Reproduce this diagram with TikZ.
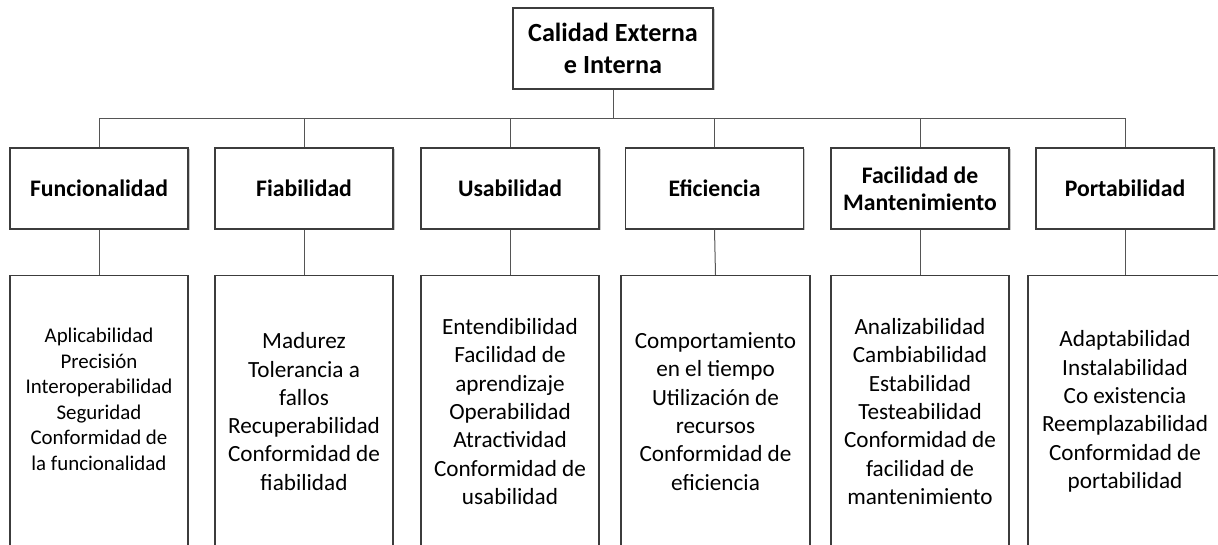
\documentclass[tikz,border=0pt]{standalone}
\usepackage{fontspec}
\setmainfont{Carlito}
\usetikzlibrary{shadows}

\definecolor{boxline}{RGB}{60,60,60}
\definecolor{linkline}{RGB}{85,85,85}

\tikzset{
    boxshadow/.style={drop shadow={shadow xshift=1.5pt, shadow yshift=-1.5pt, opacity=0.3, fill=black!70}},
    topbox/.style={draw=boxline, line width=1.1pt, fill=white, boxshadow,
        minimum width=200pt, minimum height=81pt, align=center,
        font=\bfseries\fontsize{26.2}{32}\selectfont},
    catbox/.style={draw=boxline, line width=1.1pt, fill=white, boxshadow,
        minimum width=178pt, minimum height=81pt, align=center,
        font=\bfseries\fontsize{23.7}{26.7}\selectfont},
    listbox/.style={draw=boxline, line width=1.1pt, fill=white,
        minimum width=178pt, minimum height=272pt, align=center,
        font=\fontsize{23.2}{28.3}\selectfont},
    listtext/.style={align=center, font=\fontsize{20.9}{25.5}\selectfont},
    link/.style={draw=linkline, line width=1pt}
}

\begin{document}
\begin{tikzpicture}[x=1pt, y=-1pt]

    \path[use as bounding box, clip] (0,0) rectangle (1218,545);

    % Root
    \node[topbox] (root) at (613,48.5) {Calidad Externa\\e Interna};
    \coordinate (bus) at (613,119);

    % Characteristics
    \node[catbox] (fun) at (99,188.5) {Funcionalidad};
    \node[catbox] (fia) at (304,188.5) {Fiabilidad};
    \node[catbox] (usa) at (510,188.5) {Usabilidad};
    \node[catbox] (efi) at (714.5,188.5) {Eficiencia};
    \node[catbox] (fac) at (920,188.5) {Facilidad de\\Mantenimiento};
    \node[catbox] (por) at (1125,188.5) {Portabilidad};

    % Sub-characteristics (boxes run past the bottom edge)
    \node[listbox] (fun-l) at (99,411.5) {};
    \node[listtext] (fun-t) at ([yshift=12pt]fun-l.center)
        {Aplicabilidad\\Precisión\\Interoperabilidad\\Seguridad\\Conformidad de\\la funcionalidad};
    \node[listbox] (fia-l) at (304,411.5)
        {Madurez\\Tolerancia a\\fallos\\Recuperabilidad\\Conformidad de\\fiabilidad};
    \node[listbox] (usa-l) at (510,411.5)
        {Entendibilidad\\Facilidad de\\aprendizaje\\Operabilidad\\Atractividad\\Conformidad de\\usabilidad};
    \node[listbox, minimum width=189pt] (efi-l) at (715.5,411.5)
        {Comportamiento\\en el tiempo\\Utilización de\\recursos\\Conformidad de\\eficiencia};
    \node[listbox] (fac-l) at (920,411.5)
        {Analizabilidad\\Cambiabilidad\\Estabilidad\\Testeabilidad\\Conformidad de\\facilidad de\\mantenimiento};
    \node[listbox, minimum width=194pt] (por-l) at (1125,411.5)
        {Adaptabilidad\\Instalabilidad\\Co existencia\\Reemplazabilidad\\Conformidad de\\portabilidad};

    % Connectors
    \draw[link] (root.south) -- (bus);
    \foreach \c in {fun,fia,usa,efi,fac,por} {
        \draw[link] (bus) -| (\c.north);
        \draw[link] (\c.south) -- (\c-l.north);
    }

\end{tikzpicture}
\end{document}
